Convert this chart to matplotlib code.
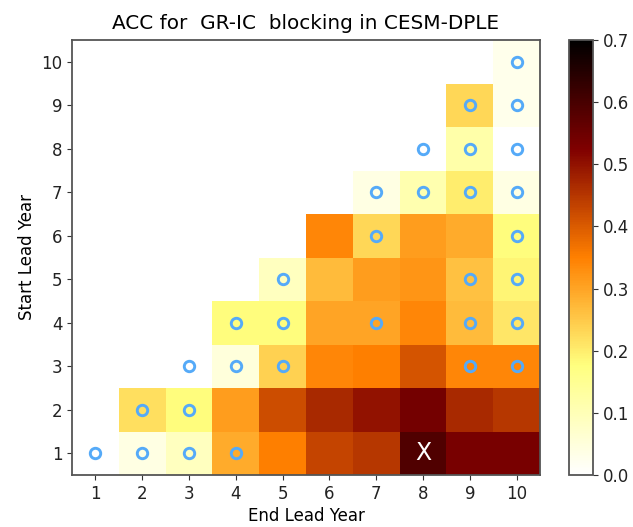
import numpy as np
import matplotlib
matplotlib.use("Agg")
import matplotlib.pyplot as plt

# ACC values: rows = start lead year 1..10, columns = end lead year 1..10
nan = np.nan
acc = np.array([
    [-0.05, 0.04, 0.09, 0.29, 0.35, 0.43, 0.45, 0.59, 0.535, 0.535],
    [nan, 0.22, 0.18, 0.31, 0.42, 0.47, 0.50, 0.54, 0.47, 0.45],
    [nan, nan, -0.02, 0.05, 0.24, 0.34, 0.35, 0.41, 0.34, 0.34],
    [nan, nan, nan, 0.18, 0.18, 0.30, 0.30, 0.34, 0.27, 0.21],
    [nan, nan, nan, nan, 0.09, 0.27, 0.31, 0.32, 0.26, 0.19],
    [nan, nan, nan, nan, nan, 0.34, 0.23, 0.31, 0.29, 0.18],
    [nan, nan, nan, nan, nan, nan, 0.04, 0.11, 0.20, 0.04],
    [nan, nan, nan, nan, nan, nan, nan, -0.03, 0.12, -0.02],
    [nan, nan, nan, nan, nan, nan, nan, nan, 0.23, 0.03],
    [nan, nan, nan, nan, nan, nan, nan, nan, nan, 0.03],
])

# cells marked with "o" (end, start)
circ_end = [1, 2, 3, 4, 2, 3, 3, 4, 5, 9, 10, 4, 5, 7, 9, 10, 5, 9, 10,
            7, 10, 7, 8, 9, 10, 8, 9, 10, 9, 10, 10]
circ_start = [1, 1, 1, 1, 2, 2, 3, 3, 3, 3, 3, 4, 4, 4, 4, 4, 5, 5, 5,
              6, 6, 7, 7, 7, 7, 8, 8, 8, 9, 9, 10]
# cell marked with "X"
x_end, x_start = 8, 1

years = np.arange(1, 11)

plt.rcParams["font.size"] = 12

fig = plt.figure(figsize=(6.33, 5.27), dpi=100)
ax = fig.add_axes([72 / 633, 1 - 475 / 527, 468 / 633, 435 / 527])
cax = fig.add_axes([569 / 633, 1 - 475 / 527, 24 / 633, 435 / 527])

cmap = plt.get_cmap("afmhot_r").copy()
cmap.set_bad("white")
edges = np.arange(0.5, 11.5, 1)
mesh = ax.pcolormesh(edges, edges, np.ma.masked_invalid(acc), cmap=cmap,
                     vmin=0, vmax=0.7)

ax.plot(circ_end, circ_start, "o", ms=7.5, mfc="none", mec="#55aaf8", mew=2.1)
ax.text(x_end, x_start, "X", color="white", ha="center", va="center",
        fontsize=17)

ax.set_xlim(0.5, 10.5)
ax.set_ylim(0.5, 10.5)
ax.set_xticks(years)
ax.set_yticks(years)
ax.set_xlabel("End Lead Year", labelpad=3)
ax.set_ylabel("Start Lead Year")
ax.set_title("ACC for  GR-IC  blocking in CESM-DPLE", fontsize=14.4, pad=8)
for s in ax.spines.values():
    s.set_color("#555555")
    s.set_linewidth(1.3)
ax.tick_params(colors="#333333", labelcolor="#222222")

cb = fig.colorbar(mesh, cax=cax, ticks=np.arange(0, 0.71, 0.1))
cb.outline.set_edgecolor("#555555")
cb.outline.set_linewidth(1.3)
cax.tick_params(colors="#333333", labelcolor="#222222")

fig.savefig("out.png", dpi=100)
